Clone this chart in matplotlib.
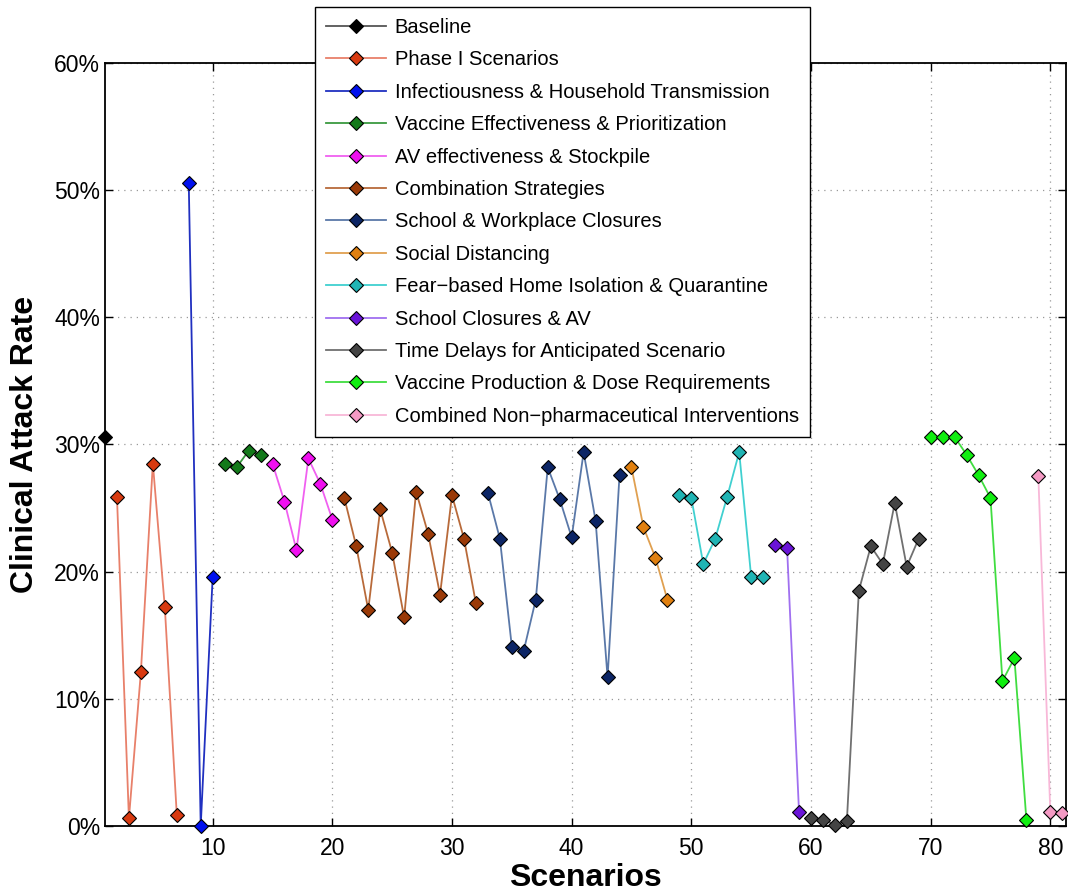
import matplotlib.pyplot as plt
import matplotlib.ticker as ticker

plt.rcParams["font.family"] = ["Liberation Sans", "DejaVu Sans"]

# scenario groups: x values and clinical attack rate (%)
baseline_x = [1]
baseline_y = [30.6]
phase1_x = [2, 3, 4, 5, 6, 7]
phase1_y = [25.9, 0.6, 12.1, 28.5, 17.2, 0.9]
infect_x = [8, 9, 10]
infect_y = [50.6, 0.0, 19.6]
vacc_eff_x = [11, 12, 13, 14]
vacc_eff_y = [28.5, 28.2, 29.5, 29.2]
av_x = [15, 16, 17, 18, 19, 20]
av_y = [28.5, 25.5, 21.7, 28.9, 26.9, 24.1]
combo_x = list(range(21, 33))
combo_y = [25.8, 22.0, 17.0, 24.9, 21.5, 16.4, 26.3, 23.0, 18.2, 26.0, 22.6, 17.5]
school_work_x = list(range(33, 45))
school_work_y = [26.2, 22.6, 14.1, 13.8, 17.8, 28.2, 25.7, 22.7, 29.4, 24.0, 11.7, 27.6]
social_x = [45, 46, 47, 48]
social_y = [28.2, 23.5, 21.1, 17.8]
fear_x = list(range(49, 57))
fear_y = [26.0, 25.8, 20.6, 22.6, 25.9, 29.4, 19.6, 19.6]
school_av_x = [57, 58, 59]
school_av_y = [22.1, 21.9, 1.1]
delay_x = list(range(60, 70))
delay_y = [0.6, 0.5, 0.1, 0.4, 18.5, 22.0, 20.6, 25.4, 20.4, 22.6]
vacc_prod_x = list(range(70, 79))
vacc_prod_y = [30.6, 30.6, 30.6, 29.2, 27.6, 25.8, 11.4, 13.2, 0.5]
npi_x = [79, 80, 81]
npi_y = [27.5, 1.1, 1.0]

groups = [
    ("Baseline", baseline_x, baseline_y, "#000000", "#555555"),
    ("Phase I Scenarios", phase1_x, phase1_y, "#d83a10", "#e8806a"),
    ("Infectiousness & Household Transmission", infect_x, infect_y, "#0010ee", "#2030c0"),
    ("Vaccine Effectiveness & Prioritization", vacc_eff_x, vacc_eff_y, "#137a1a", "#3a9a40"),
    ("AV effectiveness & Stockpile", av_x, av_y, "#f010f0", "#f060f0"),
    ("Combination Strategies", combo_x, combo_y, "#9a3a08", "#b86a3a"),
    ("School & Workplace Closures", school_work_x, school_work_y, "#0c2565", "#5a78a8"),
    ("Social Distancing", social_x, social_y, "#e08010", "#e0a050"),
    ("Fear\u2212based Home Isolation & Quarantine", fear_x, fear_y, "#20b4b4", "#40d0d0"),
    ("School Closures & AV", school_av_x, school_av_y, "#6a14d8", "#a070f0"),
    ("Time Delays for Anticipated Scenario", delay_x, delay_y, "#444444", "#707070"),
    ("Vaccine Production & Dose Requirements", vacc_prod_x, vacc_prod_y, "#10ee10", "#40dd40"),
    ("Combined Non\u2212pharmaceutical Interventions", npi_x, npi_y, "#f49ac4", "#f8b8d8"),
]

fig = plt.figure(figsize=(10.68, 8.93), dpi=100)
ax = fig.add_axes([0.0983, 0.075, 0.8997, 0.8545])

for label, xs, ys, mcol, lcol in groups:
    ax.plot(xs, ys, "-", color=lcol, lw=1.3, marker="D", markersize=7.5,
            markerfacecolor=mcol, markeredgecolor="black", markeredgewidth=0.8,
            label=label, clip_on=False, zorder=3)

ax.set_xlim(1, 81.3)
ax.set_ylim(0, 60)
ax.xaxis.set_major_locator(ticker.MultipleLocator(10))
ax.yaxis.set_major_locator(ticker.MultipleLocator(10))
ax.yaxis.set_major_formatter(ticker.FormatStrFormatter("%d%%"))
ax.tick_params(direction="in", top=True, right=True, labelsize=16.5, length=6, width=1)
ax.tick_params(axis="x", pad=8)
ax.grid(True, color="#999999", linestyle=(0, (1, 4)), lw=0.9)
for sp in ax.spines.values():
    sp.set_linewidth(1.3)

ax.set_xlabel("Scenarios", fontsize=23, fontweight="bold", labelpad=2)
ax.set_ylabel("Clinical Attack Rate", fontsize=23, fontweight="bold", labelpad=10)

leg = ax.legend(loc="upper left", bbox_to_anchor=(315 / 1068, 1 - 7 / 893),
                bbox_transform=fig.transFigure, fontsize=14.5, frameon=True,
                fancybox=False, edgecolor="black", framealpha=1, borderaxespad=0,
                handlelength=3.0, handletextpad=0.4, labelspacing=0.665,
                borderpad=0.55)
leg.get_frame().set_linewidth(1.0)
leg.set_zorder(5)

fig.savefig("out.png", dpi=100)
